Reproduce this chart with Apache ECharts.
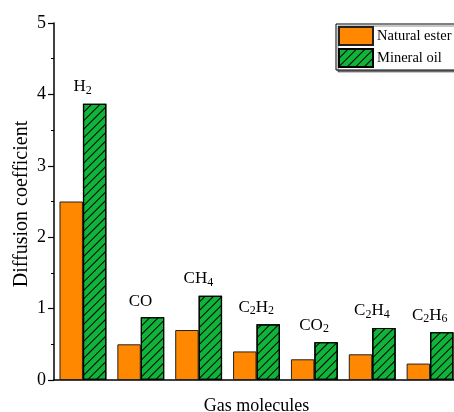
<!DOCTYPE html>
<html>
<head>
<meta charset="utf-8">
<script src="https://cdn.jsdelivr.net/npm/echarts@6/dist/echarts.min.js"></script>
<style>
  html, body { margin: 0; padding: 0; background: #fff; }
  #chart { width: 454px; height: 412px; }
</style>
</head>
<body>
<div id="chart"></div>
<script>
// Gas species (rich-text labels with subscripts) and diffusion coefficients
const gases = ['H2', 'CO', 'CH4', 'C2H2', 'CO2', 'C2H4', 'C2H6'];
const gasLabels = ['{n|H}{s|2}', '{n|CO}', '{n|CH}{s|4}', '{n|C}{s|2}{n|H}{s|2}', '{n|CO}{s|2}', '{n|C}{s|2}{n|H}{s|4}', '{n|C}{s|2}{n|H}{s|6}'];
const naturalEster = [2.50, 0.50, 0.70, 0.40, 0.29, 0.36, 0.23];
const mineralOil = [3.87, 0.88, 1.18, 0.78, 0.53, 0.73, 0.67];
const yTicks = [0, 1, 2, 3, 4, 5];

const FONT = 'Liberation Serif';
const chart = echarts.init(document.getElementById('chart'), null, { renderer: 'canvas' });

// diagonal "/" hatching for the mineral oil bars
const hatch = {
  symbol: 'rect',
  color: '#000',
  backgroundColor: null,
  dashArrayX: [1, 0],
  dashArrayY: [1, 4.7],
  rotation: -Math.PI / 4
};

chart.setOption({
  animation: false,
  backgroundColor: '#fff',
  textStyle: { fontFamily: FONT, color: '#000' },
  grid: { left: 54, top: 23, width: 405, height: 357, containLabel: false, outerBoundsMode: 'none' },
  legend: {
    left: 336, top: 24,
    orient: 'vertical',
    icon: 'rect',
    itemWidth: 34, itemHeight: 18, itemGap: 2,
    padding: [2, 30, 2, 2],
    borderColor: '#000', borderWidth: 1, borderRadius: 0,
    backgroundColor: '#fff',
    shadowColor: 'rgba(0,0,0,0.45)', shadowOffsetX: 2, shadowOffsetY: 2, shadowBlur: 0,
    textStyle: { fontFamily: FONT, fontSize: 14.5, color: '#000', padding: [0, 0, 0, -1] },
    data: ['Natural ester', 'Mineral oil']
  },
  xAxis: [{
    type: 'category',
    data: gases,
    boundaryGap: true,
    name: 'Gas molecules',
    nameLocation: 'middle',
    nameGap: 17,
    nameMoveOverlap: false,
    nameTextStyle: { fontFamily: FONT, fontSize: 18, color: '#000' },
    axisLine: { lineStyle: { color: '#000', width: 1.5 } },
    axisTick: { alignWithLabel: true, length: 6, lineStyle: { color: '#000', width: 1.2 } },
    axisLabel: { show: false }
  }, {
    type: 'category',
    data: gases,
    position: 'bottom',
    boundaryGap: true,
    axisLine: { show: false },
    axisTick: { length: 3, lineStyle: { color: '#000', width: 1 } },
    axisLabel: { show: false }
  }],
  yAxis: {
    type: 'value',
    min: yTicks[0], max: yTicks[yTicks.length - 1], interval: 1,
    name: 'Diffusion coefficient',
    nameLocation: 'middle',
    nameGap: 22,
    nameMoveOverlap: false,
    nameTextStyle: { fontFamily: FONT, fontSize: 20, color: '#000', padding: [0, 5, 0, 0] },
    axisLine: { show: true, lineStyle: { color: '#000', width: 1.5 } },
    axisTick: { show: true, length: 6, lineStyle: { color: '#000', width: 1.2 } },
    minorTick: { show: true, splitNumber: 2, length: 3, lineStyle: { color: '#000', width: 1 } },
    axisLabel: { fontFamily: FONT, fontSize: 18, color: '#000', margin: 8 },
    splitLine: { show: false }
  },
  series: [{
    name: 'Natural ester',
    type: 'bar',
    data: naturalEster,
    barGap: '0%',
    barCategoryGap: '19%',
    itemStyle: { color: '#FF8800', borderColor: '#222', borderWidth: 1 }
  }, {
    name: 'Mineral oil',
    type: 'bar',
    data: mineralOil,
    barGap: '0%',
    barCategoryGap: '19%',
    itemStyle: { color: '#10B43B', borderColor: '#000', borderWidth: 1.2, decal: hatch },
    label: {
      show: true,
      position: 'top',
      distance: 7,
      offset: [-12, 0],
      formatter: p => gasLabels[p.dataIndex],
      rich: {
        n: { fontFamily: FONT, fontSize: 17, color: '#000' },
        s: { fontFamily: FONT, fontSize: 12, color: '#000', verticalAlign: 'bottom', padding: [8, 0, 0, 0] }
      }
    }
  }]
});
</script>
</body>
</html>
